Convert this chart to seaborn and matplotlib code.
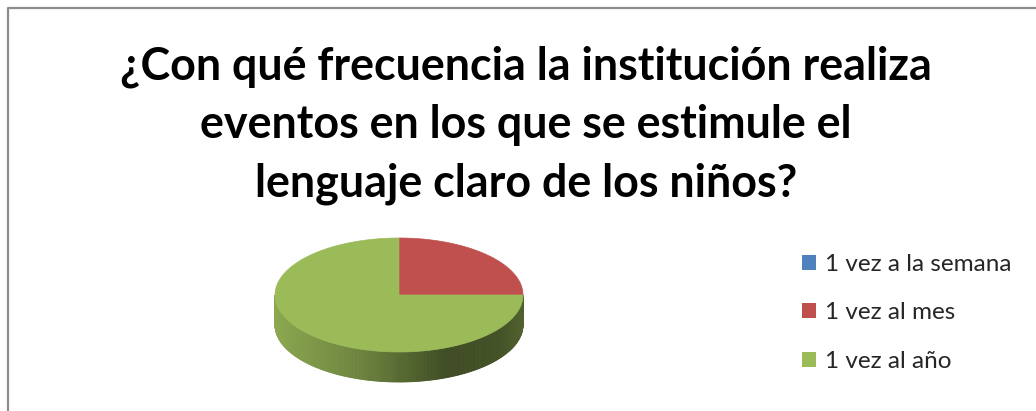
import numpy as np
import matplotlib
matplotlib.use("Agg")
import matplotlib.pyplot as plt
from matplotlib.patches import Polygon, Patch
import seaborn as sns

# datos
categorias = ["1 vez a la semana", "1 vez al mes", "1 vez al año"]
valores = [0, 25, 75]
colores = ["#4F81BD", "#C0504D", "#9BBB59"]
titulo = ["¿Con qué frecuencia la institución realiza",
          "eventos en los que se estimule el",
          "lenguaje claro de los niños?"]

sns.set_theme(style="white")
plt.rcParams["font.family"] = ["Lato", "DejaVu Sans"]
paleta = sns.color_palette(colores)

W, H = 1036, 411
fig = plt.figure(figsize=(W / 100, H / 100), dpi=100)
ax = fig.add_axes([0, 0, 1, 1])
ax.set_xlim(0, W)
ax.set_ylim(H, 0)
ax.axis("off")

# marco del gráfico
ax.plot([8, 8, W], [H, 8, 8], color="#8c8c8c", lw=1.6, solid_capstyle="butt")

# título
for i, linea in enumerate(titulo):
    ax.text(526, 80 + i * 58, linea, ha="center", va="baseline",
            fontsize=32.3, fontweight="bold", color="black")

# pastel 3D (proyección elíptica)
cx, cy, a, b, prof = 399, 295, 124, 57, 30


def punto(t):
    return cx + a * np.cos(t), cy - b * np.sin(t)


def sombra(color, t):
    c = np.cos(t)
    f = np.interp(c, [-1.0, -0.3, 0.4, 0.8, 1.0], [0.90, 0.70, 0.40, 0.44, 0.52])
    return tuple(np.clip(np.array(color) * f, 0, 1))


total = sum(valores)
inicio = np.pi / 2
rangos = []
for v, col in zip(valores, paleta):
    ang = 2 * np.pi * v / total
    rangos.append((inicio - ang, inicio, col))
    inicio -= ang

# caras laterales (mitad frontal)
for t0, t1, col in rangos:
    if t1 - t0 <= 0:
        continue
    ts = np.linspace(t0, t1, 400)
    for s0, s1 in zip(ts[:-1], ts[1:]):
        m = (s0 + s1) / 2
        if np.sin(m) >= 0:
            continue
        x0, y0 = punto(s0)
        x1, y1 = punto(s1)
        ax.add_patch(Polygon([(x0, y0), (x1, y1), (x1, y1 + prof), (x0, y0 + prof)],
                             closed=True, facecolor=sombra(col, m),
                             edgecolor=sombra(col, m), lw=0.6, zorder=2))

# cara superior
for t0, t1, col in rangos:
    if t1 - t0 <= 0:
        continue
    ts = np.linspace(t0, t1, 200)
    pts = [(cx, cy)] + [punto(t) for t in ts]
    ax.add_patch(Polygon(pts, closed=True, facecolor=col, edgecolor=col,
                         lw=0.5, zorder=3))

# leyenda
handles = [Patch(facecolor=c, edgecolor="none") for c in paleta]
ax.legend(handles, categorias, loc="upper left", bbox_to_anchor=(802, 254),
          bbox_transform=ax.transData, frameon=False, fontsize=17.5,
          handlelength=0.58, handleheight=0.58, handletextpad=0.37,
          labelspacing=1.13, borderpad=0, borderaxespad=0)

fig.savefig("out.png", dpi=100)
